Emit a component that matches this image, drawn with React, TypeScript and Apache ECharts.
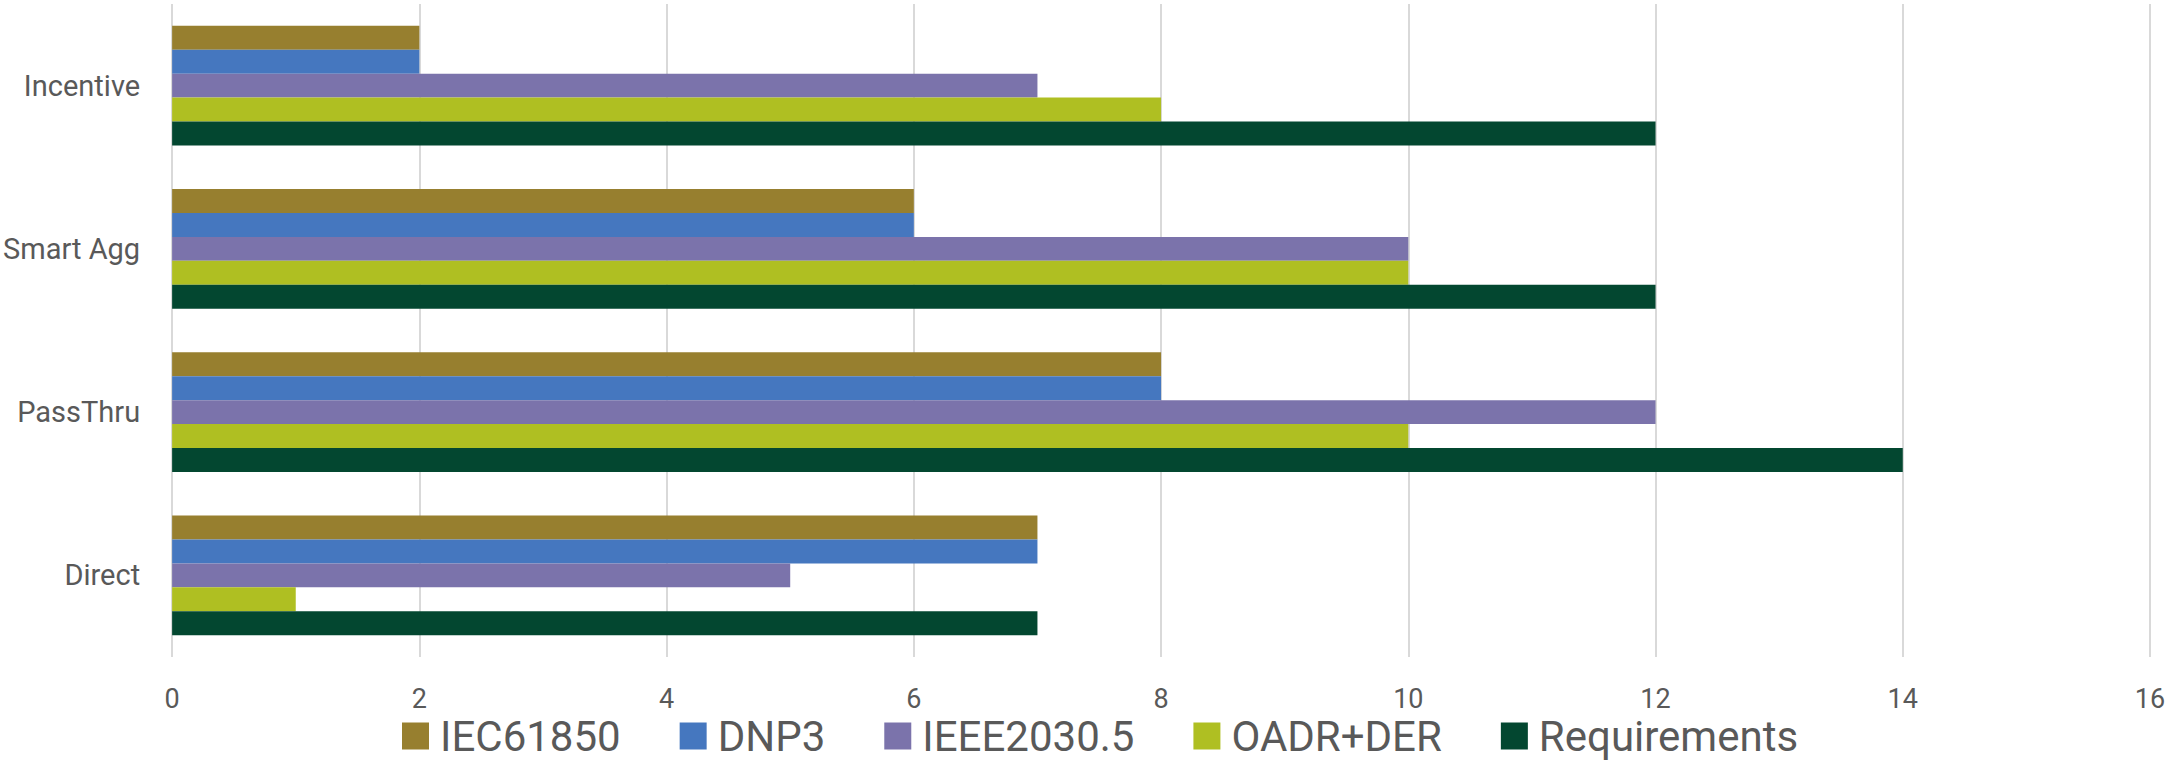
import React, { useEffect, useRef } from "react";
import * as echarts from "echarts";

const categories = ["Incentive", "Smart Agg", "PassThru", "Direct"];
const seriesNames = ["IEC61850", "DNP3", "IEEE2030.5", "OADR+DER", "Requirements"];
const iec61850 = [2, 6, 8, 7];
const dnp3 = [2, 6, 8, 7];
const ieee20305 = [7, 10, 12, 5];
const oadrDer = [8, 10, 10, 1];
const requirements = [12, 12, 14, 7];
const colors = ["#977F2F", "#4577BF", "#7B73AB", "#AFBF22", "#034730"];
const xTicks = { min: 0, max: 16, interval: 2 };

export default function App() {
  const ref = useRef<HTMLDivElement>(null);
  useEffect(() => {
    document.body.style.margin = "0";
    const chart = echarts.init(ref.current!, undefined, { renderer: "svg" });
    const values = [iec61850, dnp3, ieee20305, oadrDer, requirements];
    chart.setOption({
      animation: false,
      backgroundColor: "#ffffff",
      textStyle: { fontFamily: "Roboto" },
      grid: { left: 169, right: 19, top: 4, bottom: 103 },
      legend: {
        left: 397,
        top: 710,
        padding: 5,
        itemWidth: 27,
        itemHeight: 27,
        itemGap: 59,
        icon: "rect",
        textStyle: { fontSize: 42, lineHeight: 42, color: "#595959", fontFamily: "Roboto", padding: [0, 0, 0, 6] },
        data: seriesNames,
      },
      xAxis: {
        type: "value",
        min: xTicks.min,
        max: xTicks.max,
        interval: xTicks.interval,
        axisLine: { show: false },
        axisTick: { show: false },
        axisLabel: { fontSize: 27, color: "#595959", margin: 28 },
        splitLine: { lineStyle: { color: "#D9D9D9", width: 2 } },
      },
      yAxis: {
        type: "category",
        data: categories,
        inverse: true,
        axisLine: { show: false },
        axisTick: { show: false },
        axisLabel: { fontSize: 29, color: "#595959", margin: 32 },
      },
      series: seriesNames.map((name, i) => ({
        name,
        type: "bar",
        data: values[i],
        barGap: "0%",
        barCategoryGap: "26.5%",
        itemStyle: { color: colors[i] },
      })),
    });
    return () => chart.dispose();
  }, []);
  return <div ref={ref} style={{ width: 2169, height: 760 }} />;
}
